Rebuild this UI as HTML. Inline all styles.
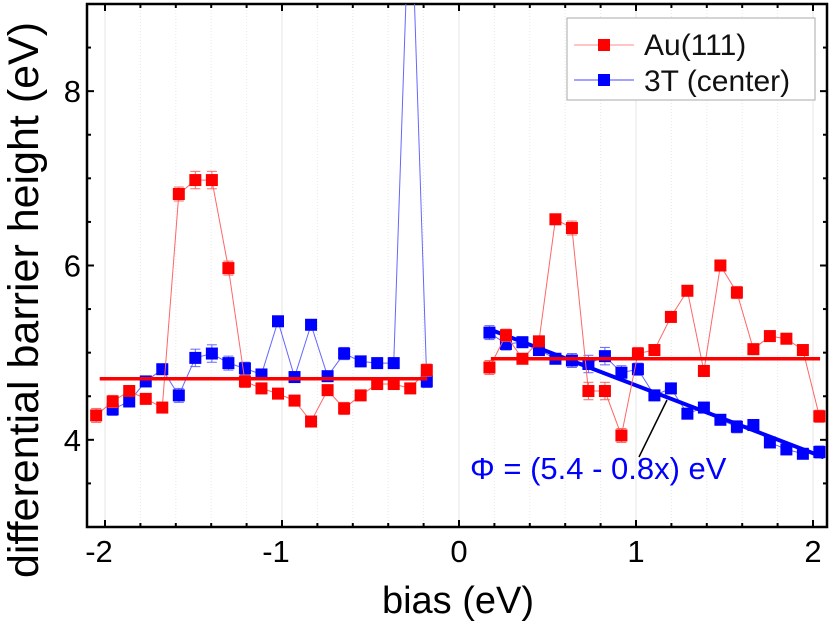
<!DOCTYPE html>
<html><head><meta charset="utf-8"><style>
body{margin:0;background:#fff;}
svg{display:block;font-family:"Liberation Sans",Arial,sans-serif;}
</style></head><body>
<svg id="chart" width="832" height="624" viewBox="0 0 832 624" xmlns="http://www.w3.org/2000/svg">
<g id="grid"></g>
<g id="axes"></g>
<g id="series"></g>
<g>
<rect x="567" y="18" width="248" height="82" fill="#fff" stroke="#aaa" stroke-width="1"/>
<g>
<line x1="574" y1="45" x2="634" y2="45" stroke="#f88" stroke-width="1"/>
<rect x="598" y="39" width="12" height="12" fill="#f00"/>
<text x="644" y="55" font-size="30" fill="#111">Au(111)</text></g>
<g>
<line x1="574" y1="80" x2="634" y2="80" stroke="#44f" stroke-width="1"/>
<rect x="598" y="74" width="12" height="12" fill="#00f"/>
<text x="644" y="91" font-size="30" fill="#111">3T (center)</text></g>
</g>
<line x1="639" y1="457" x2="667" y2="400" stroke="#000" stroke-width="1.5"/>
<text x="470" y="479" font-size="31" fill="#00f">Φ = (5.4 - 0.8x) eV</text>
<text x="458" y="613" font-size="38" text-anchor="middle" fill="#000">bias (eV)</text>
<text transform="translate(38,300) rotate(-90)" font-size="43" text-anchor="middle" fill="#000">differential barrier height (eV)</text>
</svg>
<script>
const leftX = {start:-2.05, step:0.0934, n:21};
const rightX = {start:0.172, step:0.0932, n:21};
const redLeft = [4.28,4.44,4.56,4.47,4.37,6.82,6.98,6.98,5.97,4.67,4.59,4.53,4.45,4.21,4.57,4.36,4.51,4.64,4.64,4.59,4.80];
const blueLeft = [null,4.35,4.44,4.67,4.81,4.51,4.94,4.99,4.88,4.82,4.75,5.36,4.72,5.32,4.73,4.99,4.90,4.88,4.88,10.5,4.67];
const redRight = [4.83,5.20,4.93,5.13,6.53,6.43,4.56,4.56,4.05,4.99,5.03,5.41,5.71,4.79,6.00,5.69,5.04,5.19,5.16,5.03,4.27];
const blueRight = [5.23,5.10,5.12,5.03,4.93,4.91,4.87,4.96,4.77,4.81,4.51,4.59,4.30,4.37,4.23,4.15,4.17,3.97,3.89,3.84,3.86];
const redErr = [0.08,0.07,0.06,0.06,0.06,0.08,0.1,0.1,0.08,0.07,0.06,0.06,0.06,0.06,0.06,0.07,0.06,0.06,0.06,0.06,0.07];
const fitRedLeft = [[-2.03,4.70],[-0.18,4.70]];
const fitRedRight = [[0.18,4.93],[2.04,4.93]];
const fitBlue = [[0.17,5.27],[2.06,3.80]];
const xTicks = [-2,-1,0,1,2];
const yTicks = [4,6,8];

const L=87,R=827,T=4,B=527;
const X=v=>459+v*177;
const Y=v=>B-(v-3)*87.17;
const NS="http://www.w3.org/2000/svg";
function mk(tag,attrs,parent){const e=document.createElementNS(NS,tag);for(const k in attrs)e.setAttribute(k,attrs[k]);parent.appendChild(e);return e;}
const grid=document.getElementById('grid'),axes=document.getElementById('axes'),series=document.getElementById('series');
for(let i=-10;i<=10;i++){const v=i*0.2;const px=X(v);if(px<=L||px>=R)continue;
 const major=Math.abs(v-Math.round(v))<1e-6;
 const g=mk('line',{x1:px,y1:T,x2:px,y2:B,stroke:major?'#e4e4e4':'#e8e8e8','stroke-width':1,'stroke-dasharray':major?'':'1,2'},grid);
 
 
 const len=major?7:4;
 mk('line',{x1:px,y1:B,x2:px,y2:B-len,stroke:'#000','stroke-width':2},axes);
 mk('line',{x1:px,y1:T,x2:px,y2:T+len,stroke:'#000','stroke-width':2},axes);
}
for(let v=3.5;v<9.01;v+=0.5){const py=Y(v);const major=Math.abs(v%2)<1e-6;const len=major?7:4;
 mk('line',{x1:L,y1:py,x2:L+len,y2:py,stroke:'#000','stroke-width':2},axes);
 mk('line',{x1:R,y1:py,x2:R-len,y2:py,stroke:'#000','stroke-width':2},axes);}
const frame=mk('rect',{x:L,y:T,width:R-L,height:B-T,fill:'none',stroke:'#000','stroke-width':2.5},axes);


xTicks.forEach(v=>{const t=mk('text',{x:X(v)-(v<0?6:0),y:562,'font-size':31,'text-anchor':'middle',fill:'#000'},axes);t.textContent=v<0?'-'+(-v):String(v);
 
 });
yTicks.forEach(v=>{const t=mk('text',{x:81,y:Y(v)+11,'font-size':31,'text-anchor':'end',fill:'#000'},axes);t.textContent=String(v);
 
 });
const defs=mk('defs',{},series);const cp=mk('clipPath',{id:'pc'},defs);mk('rect',{x:L,y:T,width:R-L,height:B-T},cp);
series.setAttribute('clip-path','url(#pc)');
function drawSeries(xs,vals,color,lineColor,name){
 const pts=[];vals.forEach((v,i)=>{if(v!==null)pts.push([X(xs.start+i*xs.step),Y(v)]);});
 const pl=mk('polyline',{points:pts.map(p=>p.join(',')).join(' '),fill:'none',stroke:lineColor,'stroke-width':1},series);
 
 
 vals.forEach((v,i)=>{if(v===null)return;const px=X(xs.start+i*xs.step),py=Y(v);const e=redErr[i]*87.17;
  mk('line',{x1:px,y1:py-e,x2:px,y2:py+e,stroke:lineColor,'stroke-width':1},series);
  mk('line',{x1:px-5,y1:py-e,x2:px+5,y2:py-e,stroke:lineColor,'stroke-width':1},series);
  mk('line',{x1:px-5,y1:py+e,x2:px+5,y2:py+e,stroke:lineColor,'stroke-width':1},series);
  const r=mk('rect',{x:px-6,y:py-6,width:12,height:12,fill:color},series);
  
  });
}
drawSeries(leftX,blueLeft,'#00f','#66f','3t-left');
drawSeries(rightX,blueRight,'#00f','#66f','3t-right');
function fit(f,color,w,name){const l=mk('line',{x1:X(f[0][0]),y1:Y(f[0][1]),x2:X(f[1][0]),y2:Y(f[1][1]),stroke:color,'stroke-width':w},series);
 
 }
fit(fitBlue,'#00f',4,'fit-line-3t');
drawSeries(leftX,redLeft,'#f00','#f66','au111-left');
drawSeries(rightX,redRight,'#f00','#f66','au111-right');
fit(fitRedLeft,'#f00',3.5,'fit-line-au-left');
fit(fitRedRight,'#f00',3.5,'fit-line-au-right');
</script>
</body></html>
